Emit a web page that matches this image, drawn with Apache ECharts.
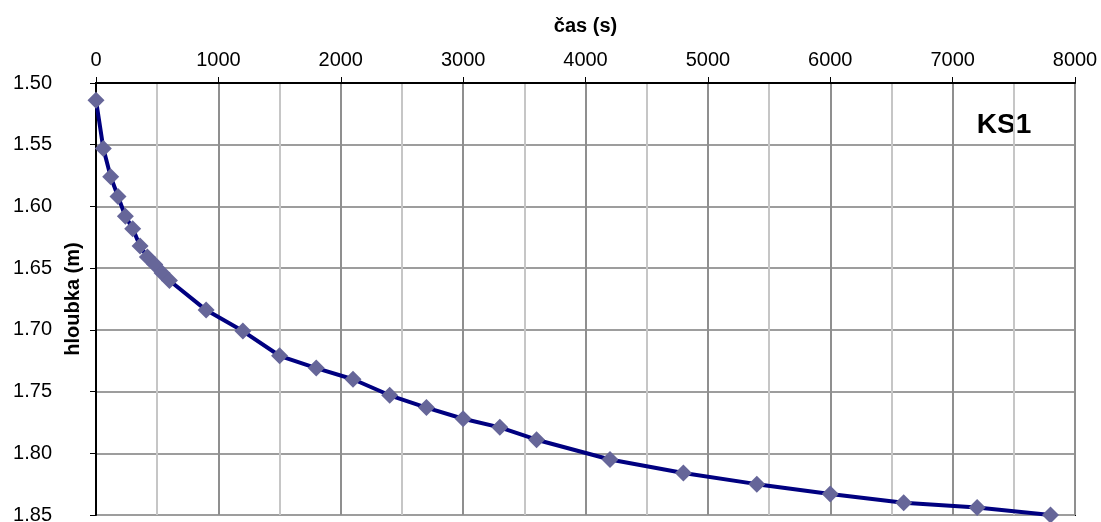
<!DOCTYPE html>
<html>
<head>
<meta charset="utf-8">
<script src="https://cdn.jsdelivr.net/npm/echarts@6/dist/echarts.min.js"></script>
<style>html,body{margin:0;padding:0;background:#fff;}#c{width:1101px;height:522px;}</style>
</head>
<body>
<div id="c"></div>
<script>
const times = [0,60,120,180,240,300,360,420,480,540,600,900,1200,1500,1800,2100,2400,2700,3000,3300,3600,4200,4800,5400,6000,6600,7200,7800];
const depths = [1.514,1.553,1.576,1.592,1.608,1.618,1.632,1.641,1.647,1.654,1.660,1.684,1.701,1.721,1.731,1.740,1.753,1.763,1.772,1.779,1.789,1.805,1.816,1.825,1.833,1.840,1.844,1.850];
const xTitle = 'čas (s)';
const yTitle = 'hloubka (m)';
const chartLabel = 'KS1';

const chart = echarts.init(document.getElementById('c'), null, {renderer:'canvas'});
const font = 'Liberation Sans';
chart.setOption({
  animation: false,
  backgroundColor: '#fff',
  grid: {left: 96, right: 26, top: 83, bottom: 7, containLabel: false, outerBoundsMode: 'none', show: true, borderColor: '#000', borderWidth: 2, backgroundColor: 'transparent'},
  xAxis: {
    type: 'value', position: 'top', min: 0, max: 8000, interval: 1000,
    name: xTitle, nameLocation: 'middle', nameGap: 47, nameMoveOverlap: false,
    nameTextStyle: {fontFamily: font, fontWeight: 'bold', fontSize: 20, color: '#000'},
    axisLine: {show: true, lineStyle: {color: '#000', width: 2}},
    axisTick: {show: true, inside: false, length: 6, lineStyle: {color: '#000', width: 1}},
    axisLabel: {fontFamily: font, fontSize: 20, color: '#000', margin: 13, formatter: v => String(v)},
    splitLine: {show: true, lineStyle: {color: '#8f8f8f', width: 2}},
    minorTick: {show: false, splitNumber: 2},
    minorSplitLine: {show: true, lineStyle: {color: '#c6c6c6', width: 2}}
  },
  yAxis: {
    type: 'value', inverse: true, min: 1.5, max: 1.85, interval: 0.05,
    name: yTitle, nameLocation: 'middle', nameGap: 13, nameMoveOverlap: false,
    nameTextStyle: {fontFamily: font, fontWeight: 'bold', fontSize: 20, color: '#000'},
    axisLine: {show: true, lineStyle: {color: '#000', width: 2}},
    axisTick: {show: true, inside: false, length: 6, lineStyle: {color: '#000', width: 1}},
    axisLabel: {fontFamily: font, fontSize: 20, color: '#000', margin: 44, formatter: v => v.toFixed(2)},
    splitLine: {show: true, lineStyle: {color: '#9d9d9d', width: 2}}
  },
  graphic: [{
    type: 'group', z: 5,
    children: [
      {type: 'rect', shape: {x: 947, y: 99, width: 115, height: 51}, style: {fill: '#fff'}},
      {type: 'text', x: 1004, y: 125, style: {text: chartLabel, align: 'center', verticalAlign: 'middle', font: 'bold 28px "Liberation Sans"', fill: '#000'}}
    ]
  }],
  series: [{
    type: 'line', data: times.map((t, i) => [t, depths[i]]),
    clip: false, z: 10,
    lineStyle: {color: '#000080', width: 4},
    itemStyle: {color: '#666699'},
    symbol: 'diamond', symbolSize: 17, showSymbol: true
  }]
});
</script>
</body>
</html>
